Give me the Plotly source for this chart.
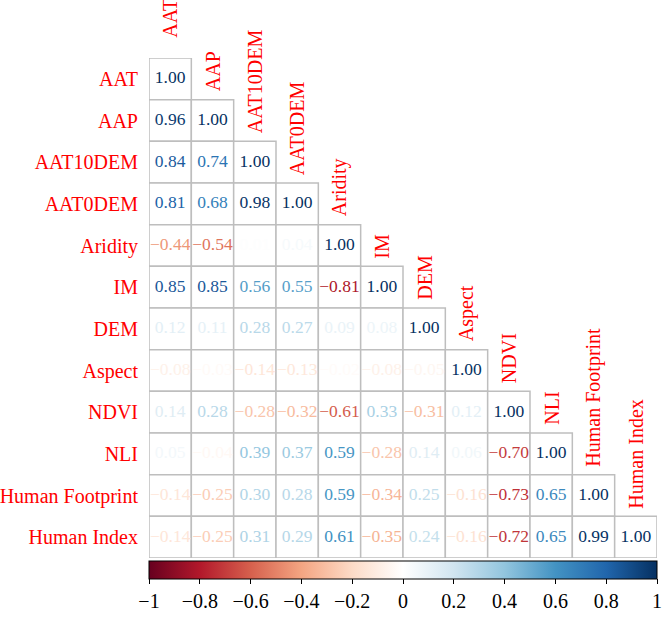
import plotly.graph_objects as go
from plotly.colors import sample_colorscale

# --- Data ---
variables = ["AAT", "AAP", "AAT10DEM", "AAT0DEM", "Aridity", "IM", "DEM",
             "Aspect", "NDVI", "NLI", "Human Footprint", "Human Index"]

# lower triangle, row by row (diagonal excluded, always 1.00)
r_AAP = [0.96]
r_AAT10DEM = [0.84, 0.74]
r_AAT0DEM = [0.81, 0.68, 0.98]
r_Aridity = [-0.44, -0.54, 0.01, 0.04]
r_IM = [0.85, 0.85, 0.56, 0.55, -0.81]
r_DEM = [0.12, 0.11, 0.28, 0.27, 0.09, 0.08]
r_Aspect = [-0.08, -0.03, -0.14, -0.13, -0.02, -0.08, -0.05]
r_NDVI = [0.14, 0.28, -0.28, -0.32, -0.61, 0.33, -0.31, 0.12]
r_NLI = [0.05, -0.04, 0.39, 0.37, 0.59, -0.28, 0.14, 0.06, -0.70]
r_HF = [-0.14, -0.25, 0.30, 0.28, 0.59, -0.34, 0.25, -0.16, -0.73, 0.65]
r_HI = [-0.14, -0.25, 0.31, 0.29, 0.61, -0.35, 0.24, -0.16, -0.72, 0.65, 0.99]

rows = [[], r_AAP, r_AAT10DEM, r_AAT0DEM, r_Aridity, r_IM, r_DEM,
        r_Aspect, r_NDVI, r_NLI, r_HF, r_HI]

# corrplot RdBu palette
rdbu = ["#67001F", "#B2182B", "#D6604D", "#F4A582", "#FDDBC7", "#FFFFFF",
        "#D1E5F0", "#92C5DE", "#4393C3", "#2166AC", "#053061"]
cscale = [[i / (len(rdbu) - 1), c] for i, c in enumerate(rdbu)]

FONT = "Liberation Serif"
n = len(variables)
W, H = 666, 641

xs, ys, vals = [], [], []
for i, row in enumerate(rows):
    for j, v in enumerate(row + [1.0]):
        xs.append(j)
        ys.append(i)
        vals.append(v)

labels = [("\u2212" if v < 0 else "") + f"{abs(v):.2f}" for v in vals]
colors = sample_colorscale(cscale, [(v + 1) / 2 for v in vals])

fig = go.Figure()

# cell boxes
for x, y in zip(xs, ys):
    fig.add_shape(type="rect", xref="x", yref="y",
                  x0=x - 0.5, x1=x + 0.5, y0=y - 0.5, y1=y + 0.5,
                  line=dict(color="#BEBEBE", width=1.5),
                  fillcolor="white", layer="below")

fig.add_trace(go.Scatter(
    x=xs, y=ys, mode="text", text=labels,
    textfont=dict(family=FONT, size=17.5, color=colors),
    hoverinfo="skip", showlegend=False,
))

# plot area in pixels
px_l, px_r, px_t, px_b = 149, 657, 58, 558

# colour bar
fig.add_trace(go.Scatter(
    x=[0, 0], y=[0, 0], mode="markers",
    marker=dict(size=0.1, opacity=0, color=[-1, 1], cmin=-1, cmax=1,
                colorscale=cscale, showscale=True,
                colorbar=dict(orientation="h", x=(px_l + px_r) / 2 / W, xanchor="center",
                              y=1 - 587 / H, yanchor="middle",
                              len=(px_r - px_l) / W, lenmode="fraction",
                              thickness=18, xpad=0, ypad=0,
                              outlinecolor="black", outlinewidth=1,
                              tick0=-1, dtick=0.2, ticks="outside", ticklen=5,
                              tickcolor="black",
                              tickfont=dict(family=FONT, size=20, color="black"))),
    hoverinfo="skip", showlegend=False,
))

# column labels on the diagonal
for j, name in enumerate(variables):
    fig.add_annotation(x=j, y=j - 0.5, xref="x", yref="y", text=name,
                       textangle=-90, showarrow=False, xanchor="center",
                       yanchor="bottom", yshift=18 if j == 0 else 6,
                       font=dict(family=FONT, size=20, color="red"))

fig.update_layout(
    width=W, height=H,
    margin=dict(l=0, r=0, t=0, b=0),
    paper_bgcolor="white", plot_bgcolor="white",
    xaxis=dict(range=[-0.5, n - 0.5], domain=[px_l / W, px_r / W],
               showgrid=False, zeroline=False, automargin=False,
               showticklabels=False, fixedrange=True),
    yaxis=dict(range=[n - 0.5, -0.5], domain=[1 - px_b / H, 1 - px_t / H],
               showgrid=False, zeroline=False, automargin=False,
               tickmode="array", tickvals=list(range(n)),
               ticktext=variables, ticks="", ticklabelstandoff=10,
               tickfont=dict(family=FONT, size=20, color="red"), fixedrange=True),
    showlegend=False,
)

# drop the default page margin so the figure sits at the window corner
fig.write_html("out.html", config={"displayModeBar": False},
               post_script="document.body.style.margin='0';")
